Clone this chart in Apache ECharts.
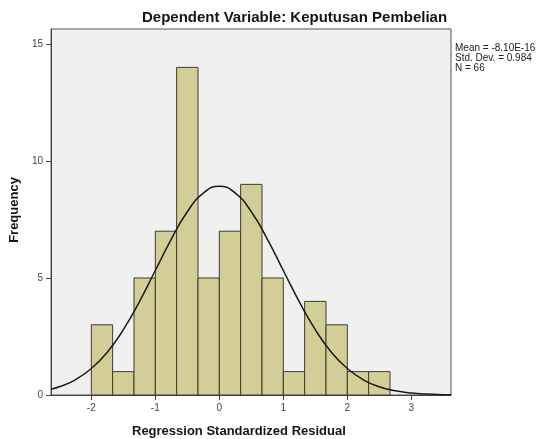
<!DOCTYPE html>
<html>
<head>
<meta charset="utf-8">
<script src="https://cdn.jsdelivr.net/npm/echarts@6/dist/echarts.min.js"></script>
<style>
  html, body { margin: 0; padding: 0; background: #fff; }
  #chart { width: 541px; height: 439px; }
</style>
</head>
<body>
<div id="chart"></div>
<script>
// histogram bins (lower edge, upper edge) and counts
const binLow = [-2, -1.667, -1.333, -1, -0.667, -0.333, 0, 0.333, 0.667, 1, 1.333, 1.667, 2, 2.333];
const binHigh = [-1.667, -1.333, -1, -0.667, -0.333, 0, 0.333, 0.667, 1, 1.333, 1.667, 2, 2.333, 2.667];
const counts = [3, 1, 5, 7, 14, 5, 7, 9, 5, 1, 4, 3, 1, 1];

// normal curve
const curveX = [-2.63, -2.5, -2.25, -2, -1.75, -1.5, -1.25, -1, -0.75, -0.5, -0.25, 0,
  0.25, 0.5, 0.75, 1, 1.25, 1.5, 1.75, 2, 2.25, 2.5, 2.75, 3, 3.25, 3.5, 3.62];
const curveY = [0.25, 0.35, 0.65, 1.13, 1.83, 2.79, 3.98, 5.32, 6.66, 7.83, 8.63, 8.92,
  8.63, 7.83, 6.66, 5.32, 3.98, 2.79, 1.83, 1.13, 0.65, 0.35, 0.18, 0.085, 0.038, 0.016, 0.01];

const xTicks = [-2, -1, 0, 1, 2, 3];
const yTicks = [0, 5, 10, 15];
const statLines = ['Mean = -8.10E-16', 'Std. Dev. = 0.984', 'N = 66'];

const font = '"Liberation Sans", Arial, sans-serif';
const chart = echarts.init(document.getElementById('chart'));

const bins = counts.map((c, i) => [binLow[i], binHigh[i], c]);
const curve = curveX.map((x, i) => [x, curveY[i]]);

chart.setOption({
  animation: false,
  title: {
    text: 'Dependent Variable: Keputusan Pembelian',
    left: 137,
    top: 5,
    textStyle: { fontFamily: font, fontSize: 15, fontWeight: 'bold', color: '#151515' }
  },
  grid: {
    left: 51, top: 29, right: 90, bottom: 44,
    show: true,
    backgroundColor: '#f0f0f0',
    borderColor: '#555',
    borderWidth: 1
  },
  xAxis: {
    type: 'value',
    min: -2.63,
    max: 3.62,
    axisLine: { show: true, onZero: false, lineStyle: { color: '#444' } },
    axisTick: { show: true, customValues: xTicks, length: 5, lineStyle: { color: '#444' } },
    axisLabel: { customValues: xTicks, color: '#444', fontSize: 10, fontFamily: font, margin: 8 },
    splitLine: { show: false }
  },
  yAxis: {
    type: 'value',
    min: 0,
    max: 15.64,
    axisLine: { show: true, onZero: false, lineStyle: { color: '#444' } },
    axisTick: { show: true, customValues: yTicks, length: 5, lineStyle: { color: '#444' } },
    axisLabel: { customValues: yTicks, color: '#444', fontSize: 10, fontFamily: font, margin: 8 },
    splitLine: { show: false }
  },
  graphic: [
    {
      type: 'text', left: 132, top: 425,
      style: { text: 'Regression Standardized Residual', font: 'bold 13px ' + font, fill: '#151515' }
    },
    {
      type: 'text', x: 14, y: 210, rotation: Math.PI / 2,
      style: { text: 'Frequency', font: 'bold 13px ' + font, fill: '#151515', align: 'center', verticalAlign: 'middle' }
    },
    {
      type: 'text', left: 455, top: 43,
      style: { text: statLines.join('\n'), font: '10px ' + font, lineHeight: 10, fill: '#222' }
    }
  ],
  series: [
    {
      type: 'custom',
      data: bins,
      encode: { x: [0, 1], y: 2 },
      renderItem: function (params, api) {
        const p0 = api.coord([api.value(0), api.value(2)]);
        const p1 = api.coord([api.value(1), 0]);
        return {
          type: 'rect',
          shape: { x: p0[0], y: p0[1], width: p1[0] - p0[0], height: p1[1] - p0[1] },
          style: { fill: '#d3ce97', stroke: '#3e3d2c', lineWidth: 1 }
        };
      }
    },
    {
      type: 'line',
      data: curve,
      smooth: true,
      showSymbol: false,
      lineStyle: { color: '#1a1a1a', width: 1.5 },
      z: 5
    }
  ]
});
</script>
</body>
</html>
